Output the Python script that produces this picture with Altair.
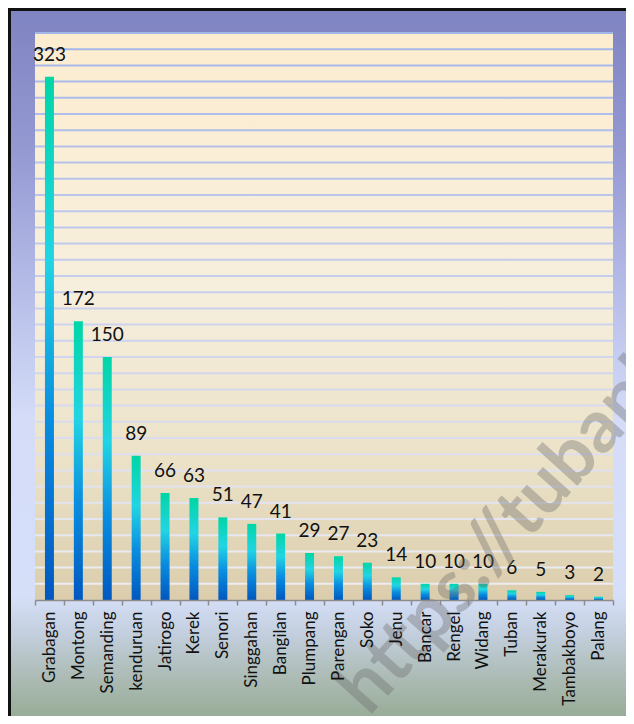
import altair as alt
import pandas as pd

kecamatan = ["Grabagan", "Montong", "Semanding", "kenduruan", "Jatirogo", "Kerek",
             "Senori", "Singgahan", "Bangilan", "Plumpang", "Parengan", "Soko",
             "Jenu", "Bancar", "Rengel", "Widang", "Tuban", "Merakurak",
             "Tambakboyo", "Palang"]
jumlah = [323, 172, 150, 89, 66, 63, 51, 47, 41, 29, 27, 23, 14, 10, 10, 10, 6, 5, 3, 2]
grid_values = [10, 20, 30, 40, 50, 60, 70, 80, 90, 100, 110, 120, 130, 140, 150,
               160, 170, 180, 190, 200, 210, 220, 230, 240, 250, 260, 270, 280,
               290, 300, 310, 320, 330, 340, 350]
watermark = "https://tubankab.bps.go.id"

W, H = 578, 567
df = pd.DataFrame({"kecamatan": kecamatan, "jumlah": jumlah})
one = alt.Data(values=[{"a": 1}])

x_enc = alt.X("kecamatan:N", sort=None, title=None,
              scale=alt.Scale(paddingInner=0, paddingOuter=0),
              axis=alt.Axis(labelAngle=-90, labelFont="Lato", labelFontSize=17,
                            labelColor="#111111", labelPadding=6, tickBand="extent",
                            tickSize=5, tickColor="#8c8c8c", tickWidth=1.5,
                            domainColor="#8c8c8c", domainWidth=1.5, grid=False,
                            zindex=1))
y_scale = alt.Scale(domain=[0, 350], nice=False, zero=True)

outer_bg = alt.Chart(one).mark_rect(
    color=alt.Gradient(gradient="linear", x1=0, x2=0, y1=0, y2=1, stops=[
        alt.GradientStop(offset=0.0, color="#7f84c2"),
        alt.GradientStop(offset=0.2, color="#9499d2"),
        alt.GradientStop(offset=0.42, color="#b9c1ea"),
        alt.GradientStop(offset=0.58, color="#d4dcf8"),
        alt.GradientStop(offset=0.83, color="#d6dff8"),
        alt.GradientStop(offset=0.88, color="#c4d0e0"),
        alt.GradientStop(offset=0.94, color="#aebdb8"),
        alt.GradientStop(offset=1.0, color="#99ac98"),
    ])
).encode(x=alt.value(-27), x2=alt.value(W + 13), y=alt.value(-25), y2=alt.value(H + 116))

frame_left = alt.Chart(one).mark_rule(color="#111111", strokeWidth=3).encode(
    x=alt.value(-25.5), y=alt.value(-25), y2=alt.value(H + 116))
frame_top = alt.Chart(one).mark_rule(color="#111111", strokeWidth=3).encode(
    y=alt.value(-23.5), x=alt.value(-27), x2=alt.value(W + 13))

plot_bg = alt.Chart(one).mark_rect(
    color=alt.Gradient(gradient="linear", x1=0, x2=0, y1=0, y2=1, stops=[
        alt.GradientStop(offset=0.0, color="#fdedd0"),
        alt.GradientStop(offset=0.45, color="#f6efdd"),
        alt.GradientStop(offset=0.75, color="#ebe2c8"),
        alt.GradientStop(offset=1.0, color="#dbcdac"),
    ])
).encode(x=alt.value(0), x2=alt.value(W), y=alt.value(0), y2=alt.value(H))

grid = alt.Chart(pd.DataFrame({"v": grid_values})).mark_rule(strokeWidth=2).encode(
    y=alt.Y("v:Q", scale=y_scale, axis=None),
    x=alt.value(0), x2=alt.value(W),
    color=alt.Color("v:Q", scale=alt.Scale(domain=[0, 350], range=["#eeeef2", "#a2b6e8"]),
                    legend=None),
)

bars = alt.Chart(df).mark_bar(
    size=9,
    color=alt.Gradient(gradient="linear", x1=0, x2=0, y1=1, y2=0, stops=[
        alt.GradientStop(offset=0.0, color="#0058c0"),
        alt.GradientStop(offset=0.35, color="#0a8ee0"),
        alt.GradientStop(offset=0.65, color="#22d4e4"),
        alt.GradientStop(offset=1.0, color="#00d6a6"),
    ])
).encode(
    x=x_enc,
    y=alt.Y("jumlah:Q", scale=y_scale, axis=None),
)

labels = alt.Chart(df).mark_text(
    font="Lato", fontSize=19, color="#111111", baseline="alphabetic", dy=-16
).encode(
    x=alt.X("kecamatan:N", sort=None),
    y=alt.Y("jumlah:Q", scale=y_scale),
    text="jumlah:Q",
)

wm = alt.Chart(one).mark_text(
    text=watermark, font="Lato", fontWeight="bold", fontSize=74, color="#6a6a6a",
    opacity=0.36, angle=312, align="left", baseline="alphabetic"
).encode(x=alt.value(334), y=alt.value(684))

chart = alt.layer(outer_bg, frame_left, frame_top, plot_bg, grid, bars, labels, wm).properties(
    width=W, height=H,
    autosize=alt.AutoSizeParams(type="none"),
    padding={"left": 27, "top": 25, "right": 13, "bottom": 116},
    background="white",
).configure_view(strokeWidth=0)

chart.save("out.html", embed_options={"renderer": "svg", "actions": False})
